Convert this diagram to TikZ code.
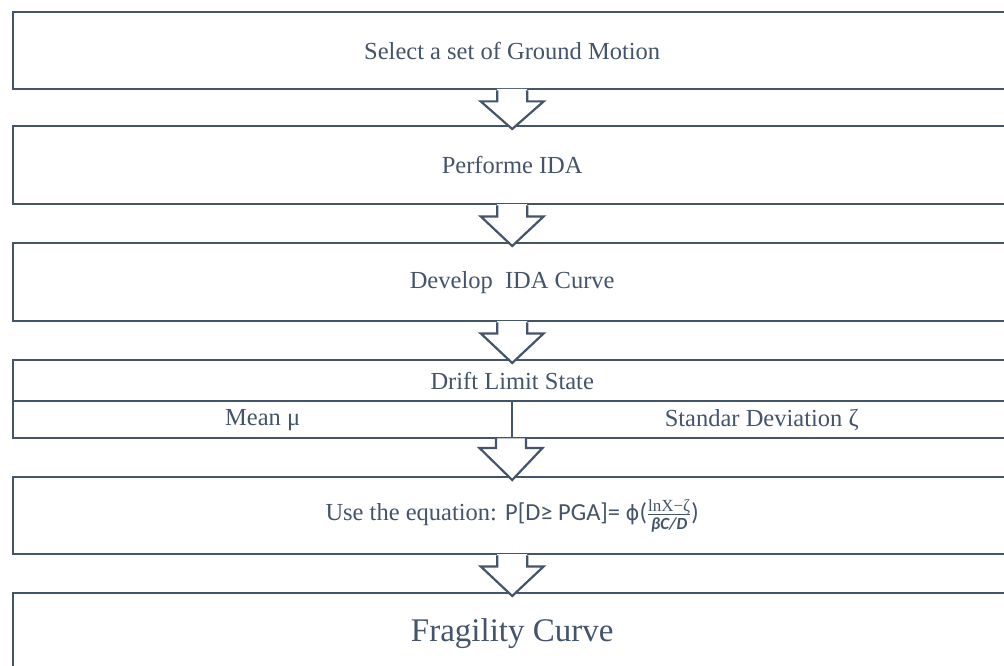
\documentclass[tikz,border=0pt]{standalone}
\usepackage{fontspec}
\setmainfont{Liberation Serif}
\newfontfamily\calib{Carlito}
\newfontfamily\djv{DejaVu Sans}
\usetikzlibrary{calc}
\definecolor{slate}{HTML}{44546A}
\newcommand{\blockarrow}[3]{%
  \fill[white] ($(#2.south)+(-15,#1)$) -- ($(#2.south)+(-15,11)$) -- ($(#2.south)+(-31.5,11)$) -- ($(#3.north)+(0,4)$) -- ($(#2.south)+(31.5,11)$) -- ($(#2.south)+(15,11)$) -- ($(#2.south)+(15,#1)$) -- cycle;
  \draw[barrow] ($(#2.south)+(-15,0)$) -- ($(#2.south)+(-15,11)$) -- ($(#2.south)+(-31.5,11)$) -- ($(#3.north)+(0,4)$) -- ($(#2.south)+(31.5,11)$) -- ($(#2.south)+(15,11)$) -- ($(#2.south)+(15,0)$);
}
\begin{document}
\begin{tikzpicture}[x=1pt,y=-1pt,
  box/.style={draw=slate, line width=2.4pt, rectangle, minimum width=998pt, anchor=north west, inner sep=0pt, font=\fontsize{24.5}{29}\selectfont, text=slate},
  half/.style={box, minimum width=499pt},
  barrow/.style={draw=slate, line width=2.2pt, line join=miter}
]
\useasboundingbox (0,0) rectangle (1004,666);
\fill[white] (0,0) rectangle (1004,666);
\node[box, minimum height=77pt] (b1) at (12,11) {Select a set of Ground Motion};
\node[box, minimum height=78pt] (b2) at (12,125) {Performe IDA};
\node[box, minimum height=78pt] (b3) at (12,242) {Develop\ \ IDA Curve};
\node[box, minimum height=41pt] (b4) at (12,359) {Drift Limit State};
\node[half, minimum height=37pt] (mean) at (12,400) {Mean μ};
\node[half, minimum height=37pt] (std) at (511,400) {Standar Deviation ζ};
\node[box, minimum height=77pt] (b5) at (12,476) {Use the equation: {\calib P[D≥ PGA]= }{\djv\fontsize{21}{25}\selectfont ϕ}{\calib(}$\frac{\textrm{\fontsize{17}{20}\selectfont lnX−ζ}}{\hbox{\calib\itshape\bfseries\fontsize{17}{20}\selectfont βC/D}}${\calib)}};
\node[box, minimum height=80pt, font=\fontsize{33}{39}\selectfont] (b6) at (12,592) {Fragility Curve};
\blockarrow{-1.4}{b1}{b2}
\blockarrow{-1.4}{b2}{b3}
\blockarrow{-1.4}{b3}{b4}
\blockarrow{-1.4}{b5}{b6}
\coordinate (b4s) at (511,437);
\fill[white] ($(b4s)+(-15,1.4)$) -- ($(b4s)+(-15,11)$) -- ($(b4s)+(-31.5,11)$) -- ($(b5.north)+(0,4)$) -- ($(b4s)+(31.5,11)$) -- ($(b4s)+(15,11)$) -- ($(b4s)+(15,1.4)$) -- cycle;
\draw[barrow] ($(b4s)+(-15,0)$) -- ($(b4s)+(-15,11)$) -- ($(b4s)+(-31.5,11)$) -- ($(b5.north)+(0,4)$) -- ($(b4s)+(31.5,11)$) -- ($(b4s)+(15,11)$) -- ($(b4s)+(15,0)$);
\end{tikzpicture}
\end{document}
